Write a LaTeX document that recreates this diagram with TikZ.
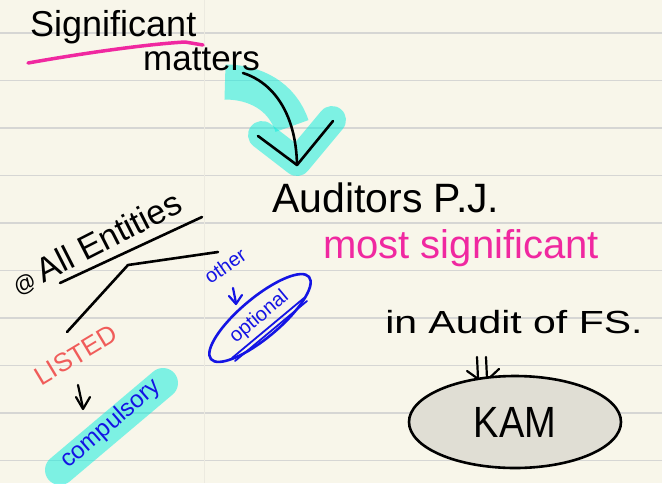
\documentclass[tikz,border=0pt]{standalone}
\usepackage{fontspec}
\setmainfont{Liberation Sans}
\usetikzlibrary{shapes.geometric}
\definecolor{paper}{RGB}{248,246,234}
\definecolor{ruleline}{RGB}{214,214,212}
\definecolor{vline}{RGB}{236,234,224}
\definecolor{hlcyan}{RGB}{4,238,222}
\definecolor{inkpink}{RGB}{240,40,160}
\definecolor{inkblue}{RGB}{20,20,228}
\definecolor{inkred}{RGB}{240,92,90}
\definecolor{kamfill}{RGB}{224,222,212}
\tikzset{
  hand/.style={inner sep=0pt, font=\fontsize{#1}{#1}\selectfont},
  ink/.style={line width=2.6pt, line cap=round, line join=round},
  hilite/.style={draw=hlcyan, draw opacity=0.5, line join=round},
  rulestyle/.style={draw=ruleline, line width=1.4pt}
}
\begin{document}
\begin{tikzpicture}[x=1pt,y=-1pt]
\useasboundingbox (0,0) rectangle (662,483);
\fill[paper] (0,0) rectangle (662,483);
% ruled paper
\foreach \yy in {33,80.5,128,175.5,223,270.5,318,365.5,413,460.5}
  \draw[rulestyle] (0,\yy) -- (662,\yy);
\draw[vline, line width=1pt] (204,0) -- (204,483);

% highlights
\draw[hilite, line width=35pt, line cap=butt] (225,82) .. controls (255,82) and (282,96) .. (292,126);
\draw[hilite, line width=28pt, line cap=round] (262,135) -- (297,162) -- (332,120);
\draw[hilite, line width=30pt, line cap=round] (60,470) -- (163,383);

% top texts
\node[hand=36, anchor=base west] (sig) at (30,36) {Significant};
\node[hand=35, anchor=base west] (mat) at (143,70) {matters};
\draw[ink, draw=inkpink, line width=3.5pt] (28,63) .. controls (90,52) and (150,44) .. (185,42) -- (203,45);

% big arrow
\coordinate (bstart) at (243,73);
\coordinate (btip) at (297,165);
\draw[ink] (bstart) .. controls (272,82) and (296,112) .. (btip);
\draw[ink] (258,136) -- (btip) -- (333,121);

\node[hand=41, anchor=base west] (aud) at (272,212) {Auditors P.J.};
\node[hand=40, anchor=base west, text=inkpink] (most) at (323,258) {most significant};
\node[hand=32, anchor=base west, xscale=1.28] (inaud) at (385,333) {in Audit of FS.};

% double arrow
\draw[ink, line width=2.2pt] (477,357) -- (478,378);
\draw[ink, line width=2.2pt] (486,357) -- (487,378);
\draw[ink, line width=2.2pt] (467,371) -- (484,383) -- (499,369);

\node[ellipse, draw, line width=2.6pt, fill=kamfill, minimum width=212pt, minimum height=80pt, inner sep=0pt,
      font=\fontsize{38}{38}\selectfont, yscale=1.15] (kam) at (515,422) {KAM};

% left tree
\node[hand=34, anchor=base west, rotate=27] (ent) at (18,296) {{\fontsize{22}{22}\selectfont @}\,All Entities};
\draw[ink] (60,283) -- (202,217);
\coordinate (bl) at (67,332);
\coordinate (bm) at (128,265);
\coordinate (br) at (218,252);
\draw[ink] (bl) -- (bm) -- (br);

\node[hand=26, rotate=31, text=inkred] (listed) at (76,355) {LISTED};
\draw[ink, line width=2.2pt] (78,385) -- (83,408);
\draw[ink, line width=2.2pt] (76,397) -- (83,409) -- (90,397);
\node[hand=24, rotate=41, text=inkblue] (comp) at (111,424) {compulsory};

\node[hand=20, rotate=35, text=inkblue] (other) at (225,266) {other};
\draw[ink, draw=inkblue, line width=2.2pt] (233,288) -- (236,303);
\draw[ink, draw=inkblue, line width=2.2pt] (229,296) -- (236,304) -- (242,295);

\node[ellipse, draw=inkblue, line width=2.6pt, minimum width=128pt, minimum height=40pt, inner sep=0pt,
      rotate=40, text=inkblue, font=\fontsize{20}{20}\selectfont] (opt) at (260,318) {\raisebox{6pt}{optional}};
\draw[ink, draw=inkblue, line width=1.8pt] (232,358) -- (304,298);
\draw[ink, draw=inkblue, line width=1.8pt] (235,361) -- (307,301);
\end{tikzpicture}
\end{document}
